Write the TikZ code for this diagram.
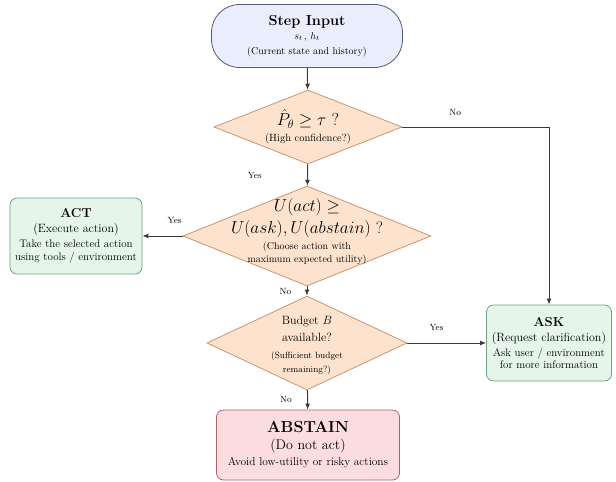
\documentclass[tikz,border=0pt]{standalone}
\usepackage{amsmath,amssymb}
\usetikzlibrary{positioning,shapes.geometric,arrows.meta}
\definecolor{startfill}{HTML}{EAEDFB}
\definecolor{startline}{HTML}{555B7E}
\definecolor{checkfill}{HTML}{FDE3CE}
\definecolor{checkline}{HTML}{C99470}
\definecolor{goodfill}{HTML}{E6F5EA}
\definecolor{goodline}{HTML}{75A07F}
\definecolor{stopfill}{HTML}{FBDDE0}
\definecolor{stopline}{HTML}{AA6466}
\definecolor{flowline}{HTML}{3A3A3A}
\newcommand{\boxhead}{\fontsize{13}{15}\selectfont\bfseries}
\newcommand{\boxsub}{\fontsize{12}{14}\selectfont}
\newcommand{\boxbody}{\fontsize{11}{13}\selectfont}

\begin{document}
\begin{tikzpicture}[x=1pt, y=1pt,
                startbox/.style={rectangle, rounded corners=28pt, draw=startline, fill=startfill, thick, minimum width=191pt, minimum height=63pt, align=center},
                check/.style={diamond, draw=checkline, fill=checkfill, thick, inner sep=0pt},
                checktext/.style={align=center, inner sep=0pt},
                outbox/.style={rectangle, rounded corners=7pt, draw=goodline, fill=goodfill, thick, align=center, minimum height=76pt, inner sep=1pt},
                stopbox/.style={rectangle, rounded corners=7pt, draw=stopline, fill=stopfill, thick, align=center, minimum width=183pt, minimum height=70pt},
                flow/.style={-{Latex[length=6pt, width=5pt]}, line width=1pt, flowline},
                answer/.style={font=\small, text=black}
            ]
            \useasboundingbox (0,0) rectangle (616,-482);

            % Input and the three checks
            \node[startbox] (input) at (307,-36) {{\fontsize{14.5}{17}\selectfont\bfseries Step Input}\\[2pt] $s_t\,,\, h_t$\\[3pt] (Current state and history)};
            \node[check, minimum width=188pt, minimum height=74pt] (conf) at (308,-127) {};
            \node[checktext] (confq) at (conf) {{\LARGE $\hat{P}_{\theta} \geq \tau$ ?}\\[4pt] {\fontsize{10.5}{12}\selectfont (High confidence?)}};
            \node[check, minimum width=248pt, minimum height=100pt] (util) at (307,-236) {};
            \node[checktext] (utilq) at ([yshift=4pt]util.center) {{\fontsize{16.5}{19}\selectfont $U(act) \geq$}\\[4pt] {\fontsize{16.5}{19}\selectfont $U(ask), U(abstain)$ ?}\\[4pt] (Choose action with\\[1pt] maximum expected utility)};
            \node[check, minimum width=200pt, minimum height=94pt] (budget) at (307,-343) {};
            \node[checktext] (budgetq) at ([yshift=-2pt]budget.center) {{\large Budget $B$}\\[5pt] {\large available?}\\[5pt] {\small (Sufficient budget}\\[2pt] {\small remaining?)}};

            % Outcomes
            \node[outbox, minimum width=132pt] (act) at (76,-236) {{\boxhead ACT}\\[3pt] {\boxsub (Execute action)}\\[3pt] {\boxbody Take the selected action}\\[1pt] {\boxbody using tools / environment}};
            \node[outbox, minimum width=125pt] (ask) at (549,-343) {{\boxhead ASK}\\[3pt] {\boxsub (Request clarification)}\\[3pt] {\boxbody Ask user / environment}\\[1pt] {\boxbody for more information}};
            \node[stopbox] (abstain) at (308,-445) {{\fontsize{16}{19}\selectfont\bfseries ABSTAIN}\\[5pt] {\fontsize{14}{16}\selectfont (Do not act)}\\[4pt] {\fontsize{11.4}{13}\selectfont Avoid low-utility or risky actions}};

            \draw[flow] (input) -- (conf);
            \draw[flow] (conf) -- node[answer, left=42pt] {Yes} (util);
            \draw[flow] (conf.east) -| node[answer, pos=0.18, above=8pt] {No} (ask.north);
            \draw[flow] (util.west) -- node[answer, pos=0.2, above=9pt] {Yes} (act.east);
            \draw[flow] (util) -- node[answer, left=12pt] {No} (budget);
            \draw[flow] (budget.east) -- node[answer, pos=0.37, above=9pt] {Yes} (ask.west);
            \draw[flow] (budget) -- node[answer, left=12pt] {No} (abstain);
            \end{tikzpicture}
\end{document}
